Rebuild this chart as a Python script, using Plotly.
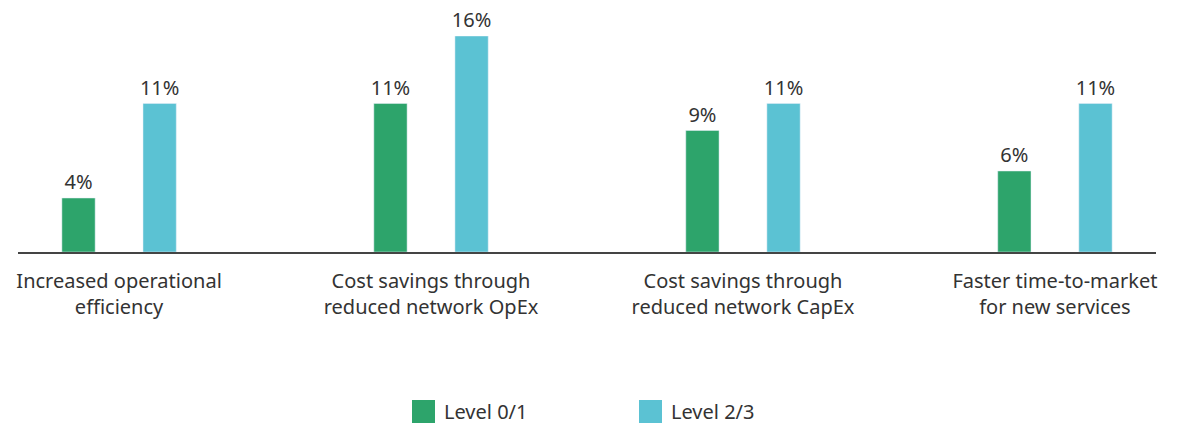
import plotly.graph_objects as go

# Data
categories = ["Increased operational<br>efficiency",
              "Cost savings through<br>reduced network OpEx",
              "Cost savings through<br>reduced network CapEx",
              "Faster time-to-market<br>for new services"]
level_01 = [4, 11, 9, 6]
level_23 = [11, 16, 11, 11]
series_names = ["Level 0/1", "Level 2/3"]
colors = ["#2da46b", "#5bc2d3"]

x_pos = list(range(len(categories)))

fig = go.Figure()
for name, vals, col in zip(series_names, [level_01, level_23], colors):
    fig.add_trace(go.Bar(
        x=x_pos, y=vals, name=name, marker_color=col,
        text=[f"{v}%" for v in vals], textposition="outside",
        textfont=dict(size=20, color="#333333"), cliponaxis=False,
        constraintext="none",
        showlegend=False,
    ))

fig.update_layout(
    width=1182, height=424,
    margin=dict(l=18, r=26, t=36, b=172),
    paper_bgcolor="white", plot_bgcolor="white",
    barmode="group", bargap=0.48, bargroupgap=0.59,
    font=dict(family="Noto Sans", size=20, color="#333333"),
    xaxis=dict(range=[-0.324, 3.324], tickvals=x_pos, ticktext=categories,
               showgrid=False, zeroline=False, showline=True,
               linecolor="#444444", linewidth=2, ticks="",
               ticklabelstandoff=10,
               tickfont=dict(size=20, color="#333333")),
    yaxis=dict(range=[0, 16], visible=False),
)

# legend drawn as squares + labels below the plot
legend_x = [412, 639]
for name, col, lx in zip(series_names, colors, legend_x):
    x0 = (lx - 18) / 1138
    x1 = (lx + 23 - 18) / 1138
    fig.add_shape(type="rect", xref="paper", yref="paper",
                  x0=x0, x1=x1, y0=(252 - 400) / 216, y1=(252 - 423) / 216,
                  fillcolor=col, line=dict(width=0))
    fig.add_annotation(text=name, xref="paper", yref="paper",
                       x=(lx + 30 - 18) / 1138, y=(252 - 411.5) / 216,
                       xanchor="left", yanchor="middle", showarrow=False,
                       font=dict(size=20, color="#333333"))

fig.write_html("out.html", config={"displayModeBar": False},
               post_script="document.body.style.margin='0';")
